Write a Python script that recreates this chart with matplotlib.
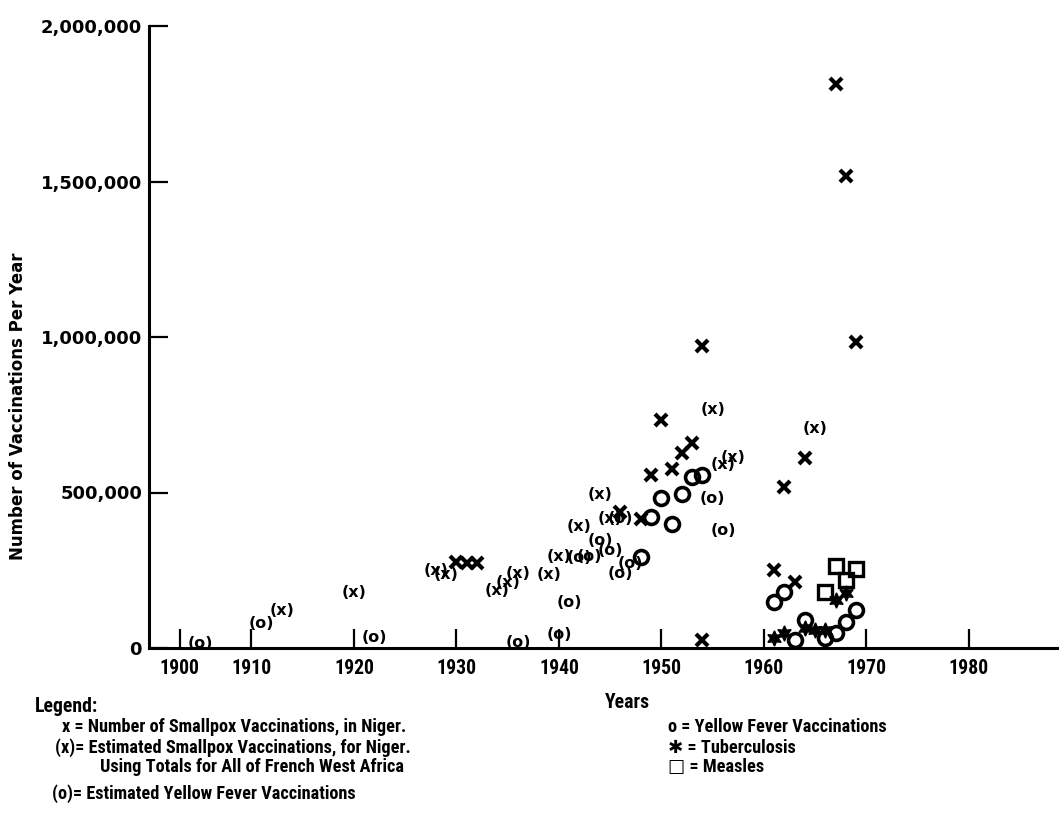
import matplotlib
matplotlib.use('Agg')
import matplotlib.pyplot as plt
from matplotlib import font_manager

# smallpox vaccinations counted in Niger (x)
pox_years = [1930, 1931, 1932, 1946, 1948, 1949, 1950, 1951, 1952, 1953, 1954, 1954,
             1961, 1962, 1963, 1964, 1967, 1968, 1969]
pox_vals = [277000, 273000, 273000, 437000, 415000, 556000, 733000, 575000, 627000, 659000,
            971000, 25000, 251000, 518000, 212000, 611000, 1813000, 1518000, 984000]

# smallpox estimated from French West Africa totals (x)
pox_est_years = [1913, 1920, 1928, 1929, 1934, 1935, 1936, 1939, 1940, 1942, 1944, 1945,
                 1955, 1956, 1957, 1965]
pox_est_vals = [122000, 180000, 250000, 235000, 186000, 212000, 241000, 236000, 295000,
                392000, 492000, 418000, 768000, 590000, 614000, 707000]

# yellow fever vaccinations (o)
yf_years = [1948, 1949, 1950, 1951, 1952, 1953, 1954, 1961, 1962, 1963, 1964, 1966, 1967,
            1968, 1969]
yf_vals = [293000, 421000, 482000, 399000, 495000, 550000, 556000, 148000, 180000, 26000,
           90000, 32000, 48000, 84000, 122000]

# estimated yellow fever vaccinations (o)
yf_est_years = [1905, 1911, 1922, 1936, 1940, 1941, 1942, 1943, 1944, 1945, 1946, 1946,
                1947, 1955, 1956]
yf_est_vals = [16000, 80000, 35000, 19000, 42000, 145000, 290000, 293000, 347000, 315000,
               241000, 415000, 273000, 482000, 379000]

# tuberculosis
tb_years = [1961, 1962, 1964, 1965, 1966, 1967, 1968]
tb_vals = [32000, 48000, 64000, 58000, 58000, 154000, 177000]

# measles
measles_years = [1966, 1967, 1968, 1969]
measles_vals = [180000, 264000, 219000, 254000]

y_ticks = [0, 500000, 1000000, 1500000, 2000000]
y_labels = ['0', '500,000', '1,000,000', '1,500,000', '2,000,000']
x_ticks = [1903, 1910, 1920, 1930, 1940, 1950, 1960, 1970, 1980]
x_labels = ['1900', '1910', '1920', '1930', '1940', '1950', '1960', '1970', '1980']

W, H = 1061, 814

# pick a narrow font if one is there, else shrink DejaVu
have = {f.name: f.stretch for f in font_manager.fontManager.ttflist}
cond_dejavu = any(f.name == 'DejaVu Sans' and f.stretch == 'condensed'
                  for f in font_manager.fontManager.ttflist)
if 'Liberation Sans Narrow' in have:
    narrow = dict(family=['Liberation Sans Narrow', 'DejaVu Sans'])
    nscale = 1.0
elif 'Roboto Condensed' in have:
    narrow = dict(family=['Roboto Condensed', 'DejaVu Sans'])
    nscale = 0.95
elif cond_dejavu:
    narrow = dict(family=['DejaVu Sans'], stretch='condensed')
    nscale = 0.9
else:
    narrow = dict(family=['Roboto', 'DejaVu Sans'])
    nscale = 0.85


def fp(x, y):
    # pixel position -> figure fraction
    return x / W, 1 - y / H


fig = plt.figure(figsize=(W / 100, H / 100), dpi=100)
ax = fig.add_axes([149 / W, 166 / H, 908 / W, 622 / H])
ax.set_xlim(1900, 1988.6)
ax.set_ylim(0, 2000000)

for s in ['top', 'right']:
    ax.spines[s].set_visible(False)
for s in ['left', 'bottom']:
    ax.spines[s].set_linewidth(2.2)

ax.set_yticks(y_ticks)
ax.set_yticklabels(y_labels, fontsize=13, fontweight='bold', family='DejaVu Sans')
ax.set_xticks(x_ticks)
ax.set_xticklabels(x_labels)
for lab in ax.get_xticklabels():
    lab.set_fontproperties(font_manager.FontProperties(size=15 * nscale, weight='bold',
                                                       **narrow))
ax.tick_params(axis='both', direction='in', length=14, width=1.6)
ax.tick_params(axis='x', pad=8)
ax.tick_params(axis='y', pad=5)

ax.plot(pox_years, pox_vals, 'x', color='black', ms=8, mew=3, clip_on=False)
ax.plot(yf_years, yf_vals, 'o', mfc='none', mec='black', ms=10, mew=2.6, clip_on=False)
ax.plot(tb_years, tb_vals, marker=(6, 1, 0), ls='none', color='black', ms=11, clip_on=False)
ax.plot(measles_years, measles_vals, 's', mfc='none', mec='black', ms=10, mew=2.4,
        clip_on=False)

for yr, v in zip(pox_est_years, pox_est_vals):
    ax.text(yr, v, '(x)', ha='center', va='center', fontsize=11.5, fontweight='bold',
            family='DejaVu Sans')
for yr, v in zip(yf_est_years, yf_est_vals):
    ax.text(yr, v, '(o)', ha='center', va='center', fontsize=11.5, fontweight='bold',
            family='DejaVu Sans')

fig.text(*fp(18, 406), 'Number of Vaccinations Per Year', rotation=90, ha='center',
         va='center', fontsize=12, fontweight='bold', family='DejaVu Sans')
fig.text(*fp(627, 703), 'Years', ha='center', va='center', fontsize=15 * nscale,
         fontweight='bold', **narrow)

fig.text(*fp(35, 706), 'Legend:', ha='left', va='center', fontsize=15 * nscale,
         fontweight='bold', **narrow)
legend_left = [
    (62, 727, 'x = Number of Smallpox Vaccinations, in Niger.'),
    (55, 748, '(x)= Estimated Smallpox Vaccinations, for Niger.'),
    (100, 767, 'Using Totals for All of French West Africa'),
    (52, 794, '(o)= Estimated Yellow Fever Vaccinations'),
]
for x, y, t in legend_left:
    fig.text(*fp(x, y), t, ha='left', va='center', fontsize=13.8 * nscale,
             fontweight='bold', **narrow)
legend_right = [
    (668, 727, 'o = Yellow Fever Vaccinations'),
    (668, 748, '\u2731 = Tuberculosis'),
    (668, 767, '\u25a1 = Measles'),
]
for x, y, t in legend_right:
    fig.text(*fp(x, y), t, ha='left', va='center', fontsize=13.8 * nscale,
             fontweight='bold', **narrow)

fig.savefig('out.png', dpi=100)
